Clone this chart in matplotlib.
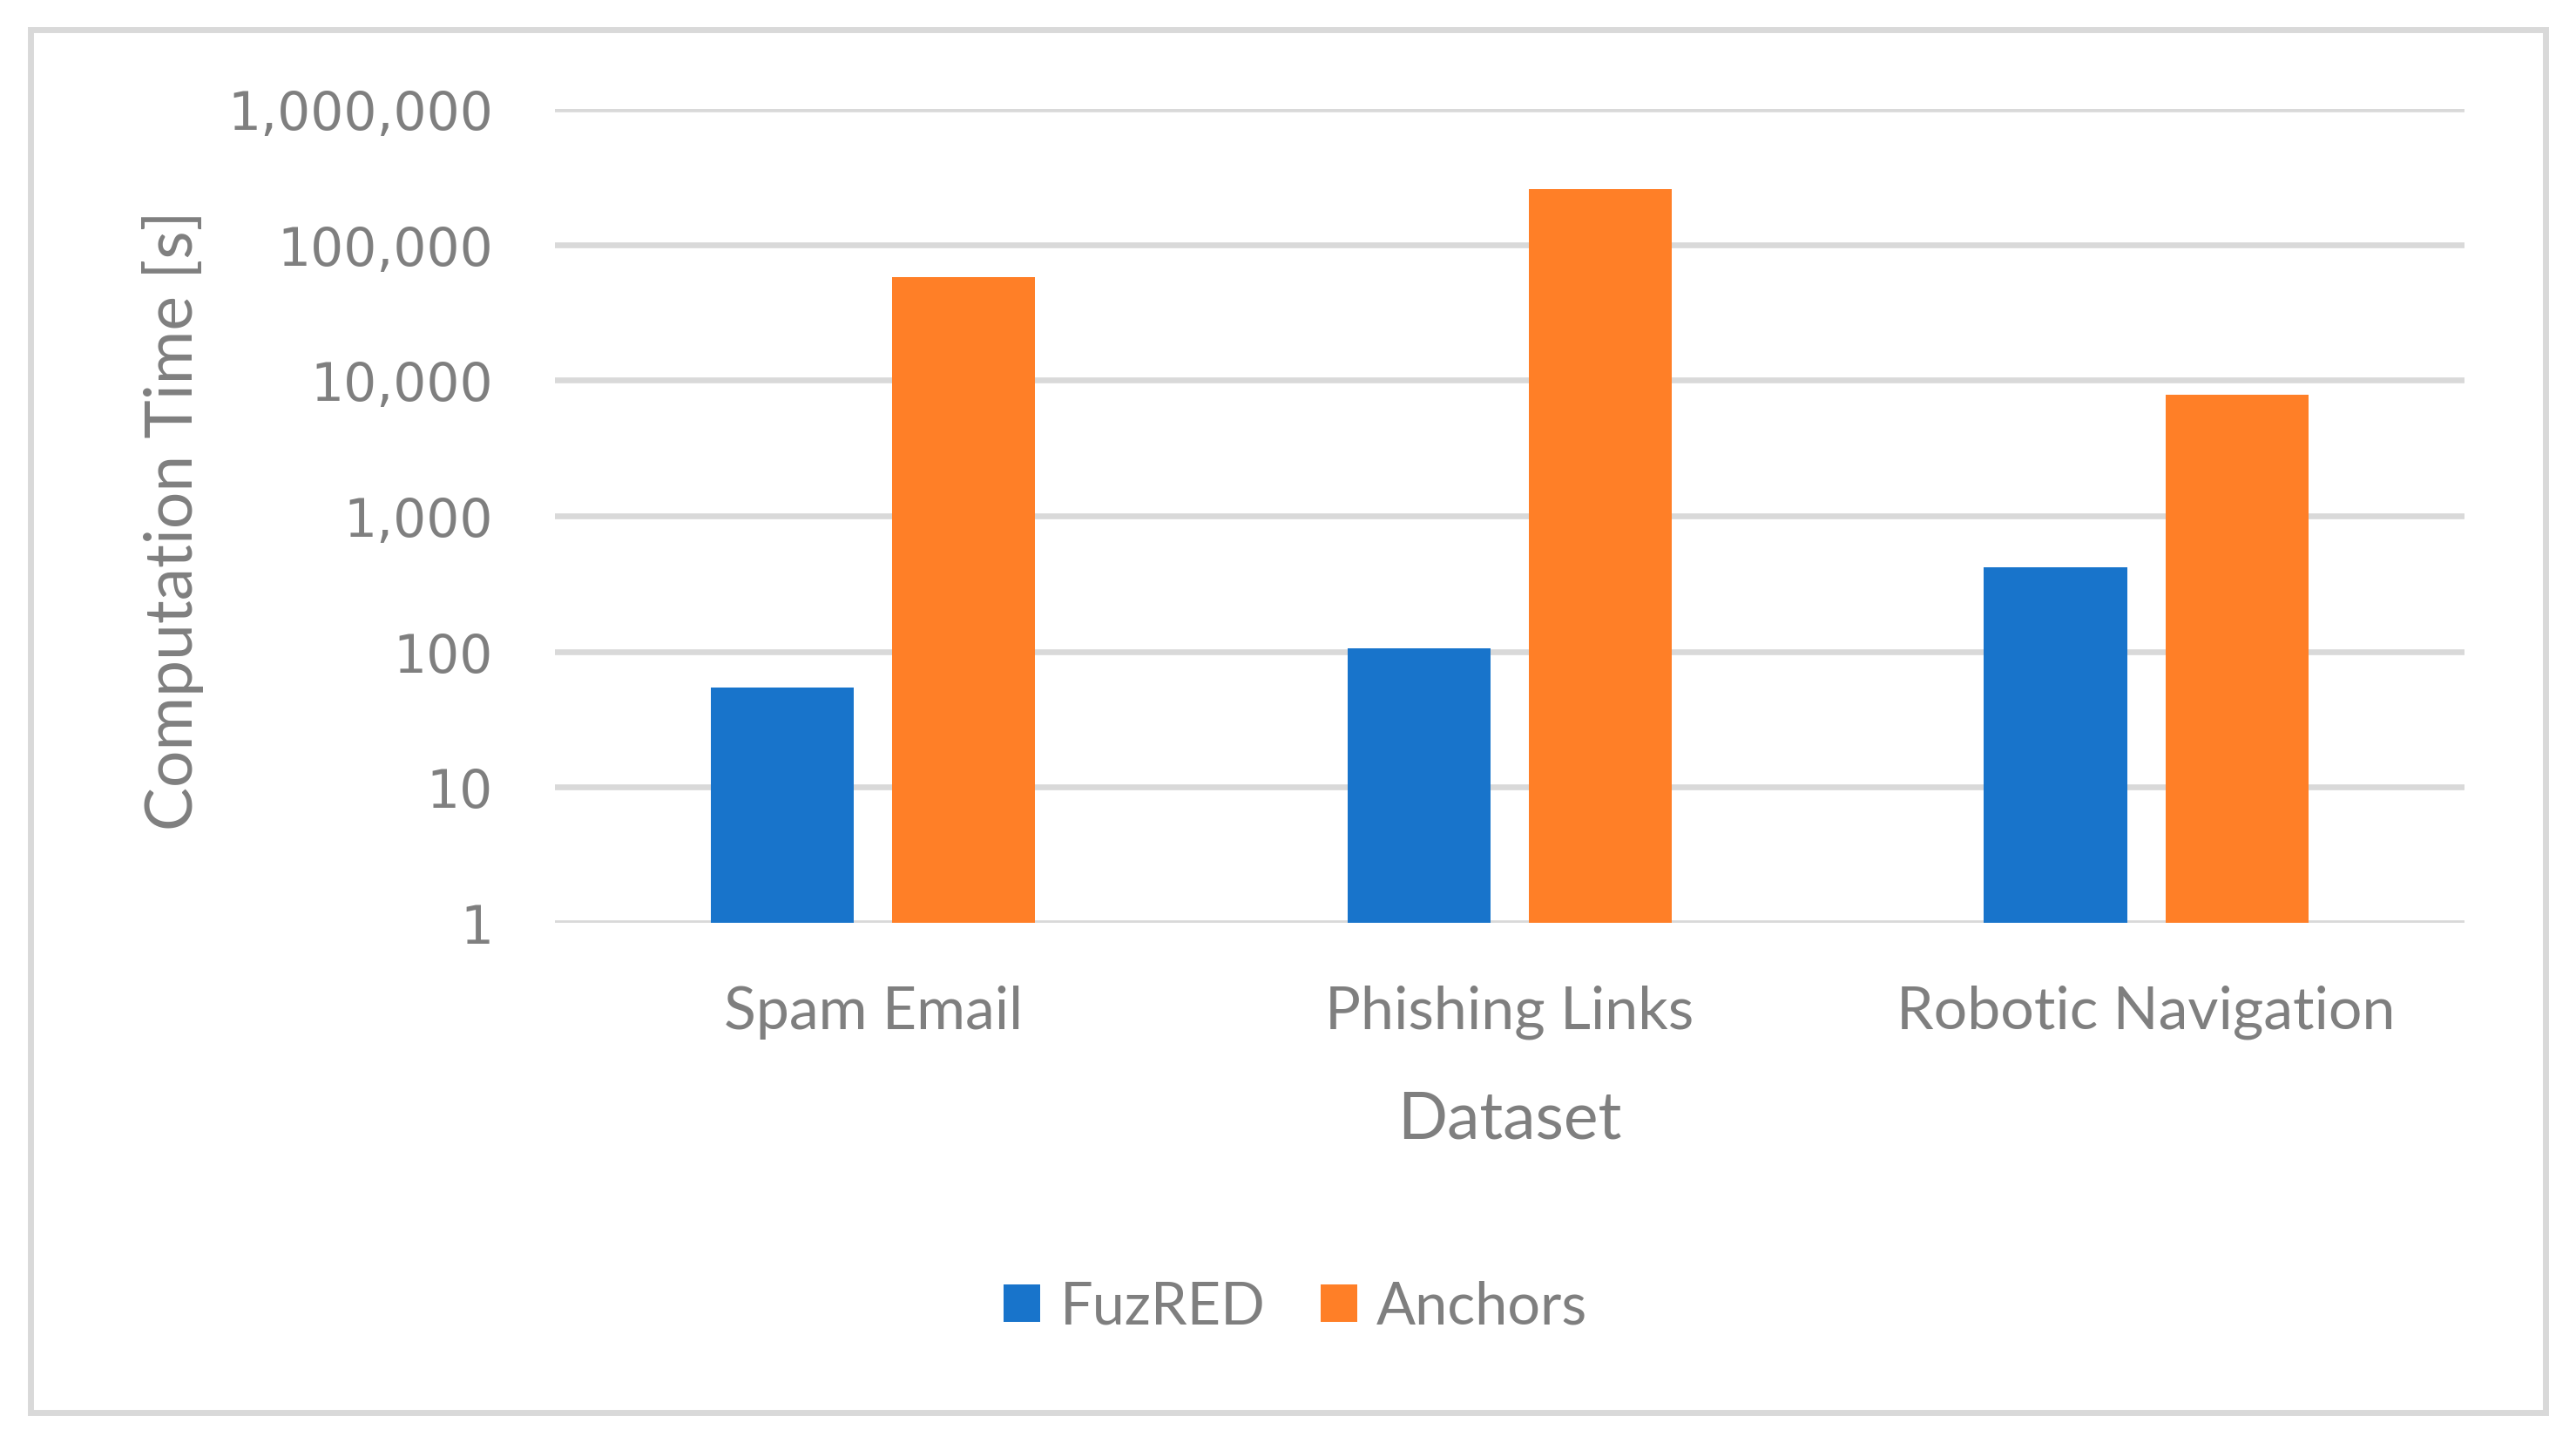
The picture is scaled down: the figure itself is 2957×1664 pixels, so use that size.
import numpy as np
import matplotlib
matplotlib.use('Agg')
from matplotlib import pyplot as plt
from matplotlib.patches import Rectangle
from matplotlib.ticker import FixedLocator, FuncFormatter

# datos
datasets = ['Spam Email', 'Phishing Links', 'Robotic Navigation']
fuzred = [54, 105, 420]
anchors = [58000, 255000, 7800]
series_names = ['FuzRED', 'Anchors']
y_ticks = [1, 10, 100, 1000, 10000, 100000, 1000000]

blue = '#1874CB'
orange = '#FF7F27'
grid_gray = '#D9D9D9'
text_gray = '#7F7F7F'

plt.rcParams['font.family'] = ['Lato', 'DejaVu Sans']

fig = plt.figure(figsize=(29.57, 16.65), dpi=100)
ax = fig.add_axes([0.2154, 0.3634, 0.7413, 0.5609])

# barras agrupadas
x = np.arange(len(datasets))
w = 0.2246
off = 0.1425
ax.bar(x - off, fuzred, w, color=blue, label=series_names[0], zorder=3)
ax.bar(x + off, anchors, w, color=orange, label=series_names[1], zorder=3)

ax.set_yscale('log')
ax.set_ylim(1, 1000000)
ax.set_xlim(-0.5, 2.5)
ax.yaxis.set_major_locator(FixedLocator(y_ticks))
ax.yaxis.set_minor_locator(FixedLocator([]))
ax.yaxis.set_major_formatter(FuncFormatter(lambda v, p: f'{int(round(v)):,}'))

ax.grid(True, axis='y', color=grid_gray, linewidth=4.8, zorder=0)
for s in ax.spines.values():
    s.set_visible(False)

ax.tick_params(axis='both', length=0)
ax.tick_params(axis='y', pad=51, labelsize=43, labelcolor=text_gray)
ax.tick_params(axis='x', pad=51, labelsize=49, labelcolor=text_gray)
for lbl in ax.get_yticklabels():
    lbl.set_family('DejaVu Sans')

ax.set_xticks(x)
ax.set_xticklabels(datasets)

ax.set_xlabel('Dataset', fontsize=54, color=text_gray, labelpad=41)
ax.set_ylabel('Computation Time [s]', fontsize=54, color=text_gray)
ax.yaxis.set_label_coords(199 / 2957, 1 - 597 / 1665, transform=fig.transFigure)
ax.yaxis.label.set_verticalalignment('center')

leg = fig.legend(loc='center', bbox_to_anchor=(0.503, 1 - 1501 / 1665), ncol=2,
                 frameon=False, fontsize=48, handlelength=0.63, handleheight=0.63,
                 handletextpad=0.34, columnspacing=0.94, labelcolor=text_gray)

# marco exterior
fig.patches.append(Rectangle((0.0118, 0.0258), 0.9764, 0.9532, transform=fig.transFigure,
                             fill=False, edgecolor=grid_gray, linewidth=5, zorder=0))

fig.savefig('out.png', dpi=100, facecolor='white')
